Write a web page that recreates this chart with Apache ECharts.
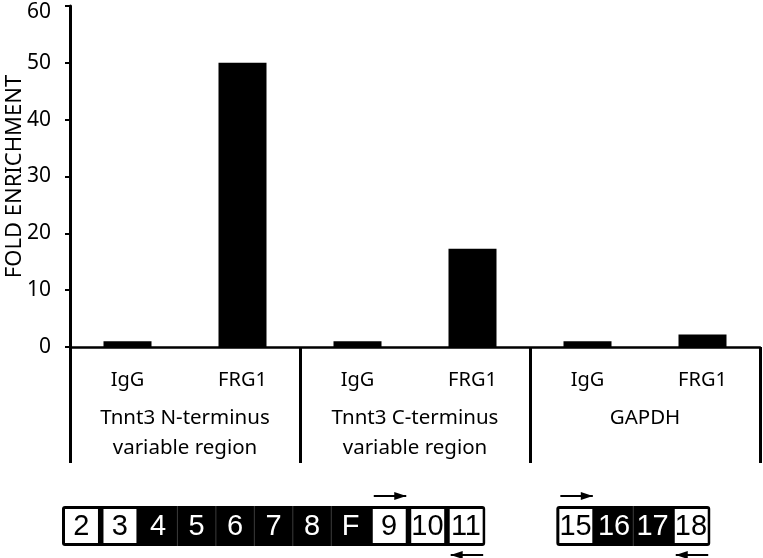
<!DOCTYPE html>
<html>
<head>
<meta charset="utf-8">
<script src="https://cdn.jsdelivr.net/npm/echarts@6/dist/echarts.min.js"></script>
<style>
  html, body { margin: 0; padding: 0; background: #fff; }
  #chart { width: 763px; height: 558px; }
</style>
</head>
<body>
<div id="chart"></div>
<script>
// bar chart values
var categories = ['IgG', 'FRG1', 'IgG', 'FRG1', 'IgG', 'FRG1'];
var groups = ['Tnnt3 N-terminus\nvariable region', 'Tnnt3 C-terminus\nvariable region', 'GAPDH'];
var foldEnrichment = [1, 50, 1, 17.3, 1, 2.2];

// exon diagram (positions in exon slots)
var exonLabels = ['2', '3', '4', '5', '6', '7', '8', 'F', '9', '10', '11', '15', '16', '17', '18'];
var exonSlots = [0, 1, 2, 3, 4, 5, 6, 7, 8, 9, 10, 12.85, 13.85, 14.85, 15.85];
var exonWhite = [1, 1, 0, 0, 0, 0, 0, 0, 1, 1, 1, 1, 0, 0, 1];
var blockStart = [0, 12.85];
var blockEnd = [11, 16.85];
var primerSlots = [8, 10, 12.85, 15.85];
var primerDir = [1, -1, 1, -1];

var FONT = 'Noto Sans';
var chart = echarts.init(document.getElementById('chart'));

function renderBlock(params, api) {
  var a = api.coord([api.value(0), 0.5]);
  var b = api.coord([api.value(1), 0.5]);
  return {
    type: 'rect',
    shape: { x: a[0], y: a[1] - 20, width: b[0] - a[0], height: 40, r: 3 },
    style: { fill: '#000' }
  };
}

function renderExon(params, api) {
  var idx = params.dataIndex;
  var a = api.coord([api.value(0), 0.5]);
  var w = api.size([1, 0])[0];
  var white = exonWhite[idx] === 1;
  var children = [];
  if (white) {
    children.push({
      type: 'rect',
      shape: { x: a[0] + 3, y: a[1] - 17, width: w - 5.5, height: 34 },
      style: { fill: '#fff' }
    });
  } else if (idx > 0 && exonWhite[idx - 1] === 0 && exonSlots[idx] - exonSlots[idx - 1] === 1) {
    children.push({
      type: 'line',
      shape: { x1: a[0], y1: a[1] - 20, x2: a[0], y2: a[1] + 20 },
      style: { stroke: '#3c3c3c', lineWidth: 1 }
    });
  }
  children.push({
    type: 'text',
    style: {
      x: a[0] + w / 2, y: a[1] + 1,
      text: exonLabels[idx],
      fill: white ? '#000' : '#fff',
      font: '29px "Liberation Sans", Arial, sans-serif',
      align: 'center', verticalAlign: 'middle'
    }
  });
  return { type: 'group', children: children };
}

function renderPrimer(params, api) {
  var idx = params.dataIndex;
  var a = api.coord([api.value(0), 0.5]);
  var w = api.size([1, 0])[0];
  var dir = primerDir[idx];
  var y = dir > 0 ? a[1] - 30 : a[1] + 29;
  var x1 = a[0] + 4, x2 = a[0] + w - 2;
  var tip = dir > 0 ? x2 : x1;
  var back = dir > 0 ? tip - 12 : tip + 12;
  return {
    type: 'group',
    children: [
      {
        type: 'line',
        shape: { x1: x1, y1: y, x2: x2, y2: y },
        style: { stroke: '#000', lineWidth: 2 }
      },
      {
        type: 'polygon',
        shape: { points: [[tip, y], [back, y - 4], [back, y + 4]] },
        style: { fill: '#000' }
      }
    ]
  };
}

var option = {
  backgroundColor: '#fff',
  animation: false,
  textStyle: { fontFamily: FONT },
  grid: [
    { left: 70, top: 6, right: 3, bottom: 211, outerBoundsMode: 'none' },
    { left: 62, top: 494, right: 47, bottom: 0, outerBoundsMode: 'none' }
  ],
  xAxis: [
    {
      type: 'category',
      gridIndex: 0,
      data: categories,
      position: 'bottom',
      axisLine: { lineStyle: { color: '#000', width: 2.5 } },
      axisTick: { show: false },
      axisLabel: { color: '#000', fontSize: 20, margin: 23, fontFamily: FONT }
    },
    {
      type: 'category',
      gridIndex: 0,
      data: groups,
      position: 'bottom',
      axisLine: { show: false },
      axisTick: { show: true, length: 116, lineStyle: { color: '#000', width: 3 } },
      axisLabel: { color: '#000', fontSize: 20.5, lineHeight: 30, margin: 56, fontFamily: FONT }
    },
    {
      type: 'value',
      gridIndex: 1,
      min: 0,
      max: 17,
      show: false
    }
  ],
  yAxis: [
    {
      type: 'value',
      gridIndex: 0,
      min: 0,
      max: 60,
      interval: 10,
      name: 'FOLD ENRICHMENT',
      nameLocation: 'middle',
      nameGap: 44,
      nameMoveOverlap: false,
      nameTextStyle: { color: '#000', fontSize: 22, fontFamily: FONT },
      axisLine: { show: true, lineStyle: { color: '#000', width: 3 } },
      axisTick: { show: true, length: 5, lineStyle: { color: '#000', width: 2 } },
      axisLabel: {
        color: '#000', fontSize: 21, margin: 19, fontFamily: FONT,
        formatter: function(v) { return v === 60 ? '{t|60}' : String(v); },
        rich: { t: { fontSize: 21, fontFamily: FONT, color: '#000', padding: [12, 0, 0, 0] } }
      },
      splitLine: { show: false }
    },
    {
      type: 'value',
      gridIndex: 1,
      min: 0,
      max: 1,
      show: false
    }
  ],
  series: [
    {
      type: 'bar',
      xAxisIndex: 0,
      yAxisIndex: 0,
      data: foldEnrichment,
      barWidth: 48,
      itemStyle: { color: '#000' }
    },
    {
      type: 'custom',
      xAxisIndex: 2,
      yAxisIndex: 1,
      renderItem: renderBlock,
      data: blockStart.map(function(s, i) { return [s, blockEnd[i]]; }),
      clip: false
    },
    {
      type: 'custom',
      xAxisIndex: 2,
      yAxisIndex: 1,
      renderItem: renderExon,
      data: exonSlots.map(function(s) { return [s]; }),
      clip: false
    },
    {
      type: 'custom',
      xAxisIndex: 2,
      yAxisIndex: 1,
      renderItem: renderPrimer,
      data: primerSlots.map(function(s) { return [s]; }),
      clip: false
    }
  ]
};

chart.setOption(option);
</script>
</body>
</html>
